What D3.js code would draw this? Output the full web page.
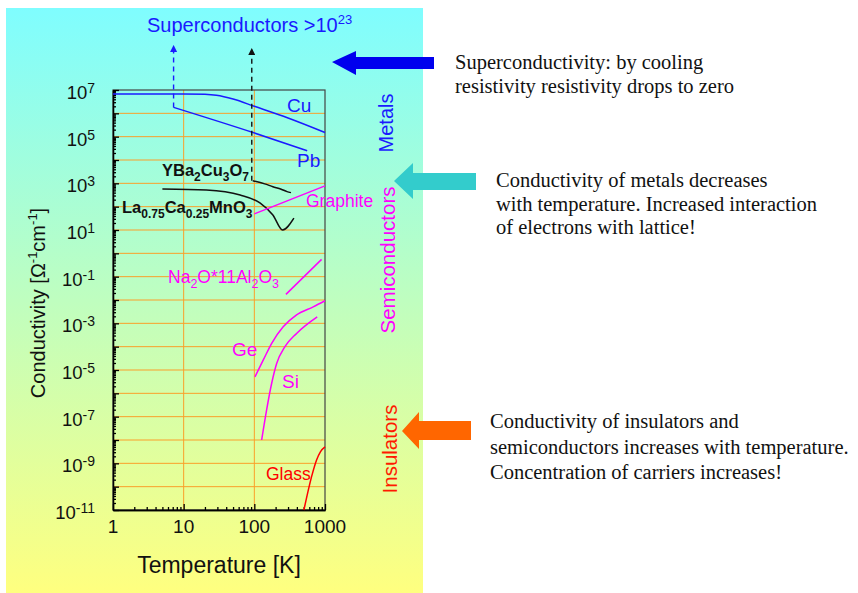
<!DOCTYPE html>
<html>
<head>
<meta charset="utf-8">
<script src="https://cdn.jsdelivr.net/npm/d3@7"></script>
<style>
  html, body { margin: 0; padding: 0; background: #fff; }
  svg { display: block; }
  .sans { font-family: "Liberation Sans", Arial, Helvetica, sans-serif; }
  .serif { font-family: "Liberation Serif", "Times New Roman", serif; }
</style>
</head>
<body>
<svg id="chart" width="858" height="593"></svg>
<script>
'use strict';

// Axis ticks.
var tempTicks = [1, 10, 100, 1000];
var condExponents = [7, 5, 3, 1, -1, -3, -5, -7, -9, -11];

// Curves: temperature [K] and conductivity [1/(Ohm cm)].
var cuT = [1, 10, 20, 29, 50, 100, 300, 1000];
var cuS = [6.8e6, 6.8e6, 6.5e6, 5.9e6, 4.1e6, 2.0e6, 6.3e5, 1.5e5];
var pbT = [7.2, 96, 560];
var pbS = [1.8e6, 1.5e5, 2.5e4];
var ybcoT = [95, 140, 183, 240, 290, 330];
var ybcoS = [1.3e3, 9.5e2, 7.2e2, 5.6e2, 4.4e2, 4.0e2];
var lcmoT = [5, 21, 63, 120, 183, 251, 363];
var lcmoS = [575, 513, 316, 145, 44, 10, 32];
var graphiteT = [100, 1000];
var graphiteS = [49, 780];
var naT = [280, 895];
var naS = [0.0174, 0.55];
var geT = [102, 134, 176, 256, 396, 681, 1000];
var geS = [5.1e-6, 2.7e-5, 1.4e-4, 7.1e-4, 2.3e-3, 5.1e-3, 9.3e-3];
var siT = [127, 149, 176, 207, 271, 396, 776];
var siS = [1.0e-8, 1.9e-7, 2.7e-6, 1.9e-5, 1.0e-4, 3.7e-4, 1.9e-3];
var glassT = [503, 646, 760, 865, 1000];
var glassS = [1e-11, 2.7e-10, 1.4e-9, 3.2e-9, 5.1e-9];

// Superconducting transitions: Tc, conductivity at Tc, top of the arrow.
var scTc = [7.2, 92];
var scFrom = [1.8e6, 1.3e3];
var scTo = [8.5e8, 6.3e8];
var scColor = ['#1a1aff', '#111'];

(function() {
  var svg = d3.select('#chart');
  var plot = {left: 113, right: 325, top: 90, bottom: 510};

  var x = d3.scaleLog().domain([1, 1000]).range([plot.left, plot.right]);
  var y = d3.scaleLog().domain([1e-11, 1e7]).range([plot.bottom, plot.top]);

  // Background panel, cyan fading to yellow.
  var defs = svg.append('defs');
  var grad = defs.append('linearGradient')
    .attr('id', 'bg').attr('x1', 0).attr('y1', 0).attr('x2', 0).attr('y2', 1);
  grad.append('stop').attr('offset', '0%').attr('stop-color', '#7ffdff');
  grad.append('stop').attr('offset', '100%').attr('stop-color', '#ffff7f');
  svg.append('rect')
    .attr('x', 6).attr('y', 8).attr('width', 417).attr('height', 585)
    .attr('fill', 'url(#bg)');

  ['blue', 'black'].forEach(function(name, i) {
    defs.append('marker')
      .attr('id', 'head-' + name)
      .attr('viewBox', '0 0 10 10')
      .attr('refX', 10).attr('refY', 5)
      .attr('markerWidth', 7).attr('markerHeight', 7)
      .attr('markerUnits', 'userSpaceOnUse')
      .attr('orient', 'auto')
      .append('path').attr('d', 'M0,0L10,5L0,10Z')
      .attr('fill', scColor[i]);
  });

  // Grid lines at every decade.
  var decades = d3.range(-10, 7).map(function(e) { return Math.pow(10, e); });
  svg.append('g').selectAll('line').data(decades).enter().append('line')
    .attr('x1', plot.left).attr('x2', plot.right)
    .attr('y1', function(d) { return y(d); })
    .attr('y2', function(d) { return y(d); })
    .attr('stroke', '#fa9f2a').attr('stroke-width', 1);
  svg.append('g').selectAll('line').data([10, 100]).enter().append('line')
    .attr('y1', plot.top).attr('y2', plot.bottom)
    .attr('x1', function(d) { return x(d); })
    .attr('x2', function(d) { return x(d); })
    .attr('stroke', '#fa9f2a').attr('stroke-width', 1);

  svg.append('rect')
    .attr('x', plot.left).attr('y', plot.top)
    .attr('width', plot.right - plot.left).attr('height', plot.bottom - plot.top)
    .attr('fill', 'none').attr('stroke', '#444').attr('stroke-width', 1.2);

  // Minor and major ticks, pointing into the plot.
  var yMajor = d3.range(-11, 8).map(function(e) { return Math.pow(10, e); });
  var yMinor = [];
  d3.range(-11, 7).forEach(function(e) {
    d3.range(2, 10).forEach(function(m) { yMinor.push(m * Math.pow(10, e)); });
  });
  var xMinor = [];
  [1, 10, 100].forEach(function(p) {
    d3.range(2, 10).forEach(function(m) { xMinor.push(m * p); });
  });

  function tickAxis(axis, tr) {
    var g = svg.append('g').attr('transform', tr).call(axis);
    g.selectAll('text').remove();
    g.selectAll('path, line').attr('stroke', '#000').attr('stroke-width', 1.3);
    return g;
  }
  tickAxis(d3.axisLeft(y).tickValues(yMinor).tickSizeInner(-3).tickSizeOuter(0),
      'translate(' + plot.left + ',0)');
  tickAxis(d3.axisLeft(y).tickValues(yMajor).tickSizeInner(-6).tickSizeOuter(0),
      'translate(' + plot.left + ',0)');
  tickAxis(d3.axisBottom(x).tickValues(xMinor).tickSizeInner(-3).tickSizeOuter(0),
      'translate(0,' + plot.bottom + ')');
  tickAxis(d3.axisBottom(x).tickValues(tempTicks).tickSizeInner(-6).tickSizeOuter(0),
      'translate(0,' + plot.bottom + ')');

  // Tick labels.
  var yLab = svg.append('g').attr('class', 'sans').attr('fill', '#111');
  condExponents.forEach(function(e) {
    var t = yLab.append('text')
      .attr('x', 95).attr('y', y(Math.pow(10, e)) + 9)
      .attr('text-anchor', 'end').attr('font-size', 18.5);
    t.append('tspan').text('10');
    t.append('tspan').attr('dy', -6).attr('font-size', 14).text(e);
  });
  svg.append('g').attr('class', 'sans').selectAll('text')
    .data(tempTicks).enter().append('text')
    .attr('x', function(d) { return x(d); })
    .attr('y', 533)
    .attr('text-anchor', 'middle').attr('font-size', 19).attr('fill', '#111')
    .text(function(d) { return d; });

  svg.append('text').attr('class', 'sans')
    .attr('x', (plot.left + plot.right) / 2).attr('y', 573)
    .attr('text-anchor', 'middle').attr('font-size', 23).attr('fill', '#111')
    .text('Temperature [K]');

  var yTitle = svg.append('text').attr('class', 'sans')
    .attr('transform', 'translate(45,303) rotate(-90)')
    .attr('text-anchor', 'middle').attr('font-size', 20).attr('fill', '#111');
  yTitle.append('tspan').text('Conductivity [\u03A9');
  yTitle.append('tspan').attr('dy', -8).attr('font-size', 13).text('-1');
  yTitle.append('tspan').attr('dy', 8).text('cm');
  yTitle.append('tspan').attr('dy', -8).attr('font-size', 13).text('-1');
  yTitle.append('tspan').attr('dy', 8).text(']');

  // Curves.
  var line = d3.line()
    .x(function(d) { return x(d[0]); })
    .y(function(d) { return y(d[1]); })
    .curve(d3.curveMonotoneX);

  function curve(ts, ss, color) {
    svg.append('path')
      .datum(d3.zip(ts, ss))
      .attr('d', line)
      .attr('fill', 'none').attr('stroke', color).attr('stroke-width', 1.5);
  }
  curve(cuT, cuS, '#1a1aff');
  curve(pbT, pbS, '#1a1aff');
  curve(ybcoT, ybcoS, '#111');
  curve(lcmoT, lcmoS, '#111');
  curve(graphiteT, graphiteS, '#ff00ff');
  curve(naT, naS, '#ff00ff');
  curve(geT, geS, '#ff00ff');
  curve(siT, siS, '#ff00ff');
  curve(glassT, glassS, '#ff0000');

  // Dashed arrows for the superconducting jump.
  scTc.forEach(function(tc, i) {
    svg.append('line')
      .attr('x1', x(tc)).attr('x2', x(tc))
      .attr('y1', y(scFrom[i])).attr('y2', y(scTo[i]))
      .attr('stroke', scColor[i]).attr('stroke-width', 1.4)
      .attr('stroke-dasharray', '5,4')
      .attr('marker-end', 'url(#head-' + (i ? 'black' : 'blue') + ')');
  });

  // Text with sub- and superscripts: parts are [text, shift, size].
  function richText(px, py, parts, opts) {
    var t = svg.append('text').attr('class', 'sans')
      .attr('x', px).attr('y', py)
      .attr('font-size', opts.size).attr('fill', opts.color)
      .attr('font-weight', opts.bold ? 'bold' : 'normal');
    var shift = 0;
    parts.forEach(function(p) {
      var s = p[1] || 0;
      var span = t.append('tspan').attr('dy', s - shift).text(p[0]);
      if (p[2]) span.attr('font-size', p[2]);
      shift = s;
    });
    if (opts.rotate) {
      t.attr('x', 0).attr('y', 0).attr('text-anchor', 'middle')
        .attr('transform', 'translate(' + px + ',' + py + ') rotate(-90)');
    }
    return t;
  }

  richText(147, 32, [['Superconductors >10'], ['23', -8, 13]],
      {size: 20, color: '#1a1aff'});
  richText(287, 112, [['Cu']], {size: 19, color: '#1a1aff'});
  richText(297, 167, [['Pb']], {size: 19, color: '#1a1aff'});
  richText(162, 176, [['YBa'], ['2', 5, 12], ['Cu'], ['3', 5, 12], ['O'], ['7', 5, 12]],
      {size: 16.5, color: '#111', bold: true});
  richText(122, 213, [['La'], ['0.75', 5, 12], ['Ca'], ['0.25', 5, 12], ['MnO'], ['3', 5, 12]],
      {size: 16.5, color: '#111', bold: true});
  richText(306, 207, [['Graphite']], {size: 17.5, color: '#ff00ff'});
  richText(168, 283, [['Na'], ['2', 5, 12.5], ['O*11Al'], ['2', 5, 12.5], ['O'], ['3', 5, 12.5]],
      {size: 17.5, color: '#ff00ff'});
  richText(232, 356, [['Ge']], {size: 19, color: '#ff00ff'});
  richText(282, 388, [['Si']], {size: 19, color: '#ff00ff'});
  richText(266, 480, [['Glass']], {size: 17.5, color: '#ff0000'});

  richText(393, 123, [['Metals']], {size: 20, color: '#1a1aff', rotate: true});
  richText(395, 260, [['Semiconductors']], {size: 20.5, color: '#ff00ff', rotate: true});
  richText(397, 449, [['Insulators']], {size: 20.5, color: '#ff1a00', rotate: true});

  // Block arrows pointing back at the chart.
  var arrows = [
    {tip: [332, 62], back: 356, head: [51, 75], end: 434, shaft: [57, 69], color: '#0000ee'},
    {tip: [394, 181], back: 413, head: [163, 199], end: 476, shaft: [173, 190], color: '#33cccc'},
    {tip: [402, 431], back: 419, head: [412, 449], end: 471, shaft: [421, 440], color: '#ff6600'}
  ];
  svg.append('g').selectAll('polygon').data(arrows).enter().append('polygon')
    .attr('points', function(a) {
      return [a.tip, [a.back, a.head[0]], [a.back, a.shaft[0]], [a.end, a.shaft[0]],
        [a.end, a.shaft[1]], [a.back, a.shaft[1]], [a.back, a.head[1]]].join(' ');
    })
    .attr('fill', function(a) { return a.color; });

  // Notes on the right.
  var notes = [
    {x: 455, y: 69, gap: 24, lines: ['Superconductivity: by cooling',
      'resistivity resistivity drops to zero']},
    {x: 496, y: 187, gap: 23.5, lines: ['Conductivity of metals decreases',
      'with temperature. Increased interaction', 'of electrons with lattice!']},
    {x: 490, y: 428, gap: 25.5, lines: ['Conductivity of insulators and',
      'semiconductors increases with temperature.', 'Concentration of carriers increases!']}
  ];
  notes.forEach(function(n) {
    svg.append('g').attr('class', 'serif').selectAll('text')
      .data(n.lines).enter().append('text')
      .attr('x', n.x)
      .attr('y', function(d, i) { return n.y + i * n.gap; })
      .attr('font-size', 20.5).attr('fill', '#111')
      .text(function(d) { return d; });
  });
})();
</script>
</body>
</html>
